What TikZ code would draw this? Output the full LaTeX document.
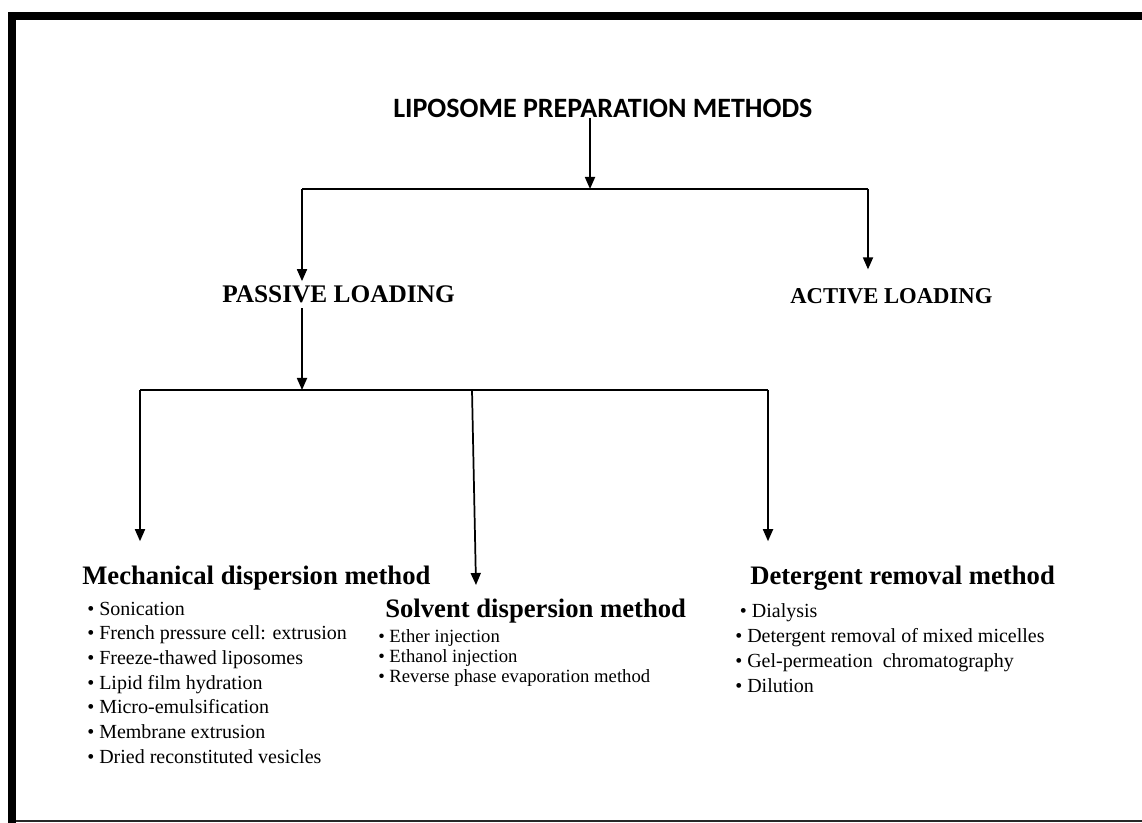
\documentclass[tikz,border=0pt]{standalone}
\usepackage{fontspec}
\setmainfont{Liberation Serif}
\newfontfamily\calfont{Carlito}
\usetikzlibrary{arrows.meta}

\begin{document}
\begin{tikzpicture}[x=0.75pt,y=0.75pt,yscale=-1,xscale=1,
  conn/.style={line width=1.3pt},
  arr/.style={conn,-{Triangle[length=9pt,width=7.5pt]}},
  head/.style={anchor=base west,inner sep=0pt,font=\fontsize{20}{24}\selectfont\bfseries},
  branch/.style={anchor=west,inner sep=0pt,font=\fontsize{19}{23}\selectfont\bfseries},
  items/.style={anchor=base west,inner sep=0pt,align=left}]
\useasboundingbox (0,0) rectangle (1142,823);

% Frame
\draw [line width=6pt] (12,823) -- (12,16) -- (1142,16);
\draw [line width=1pt, color={rgb, 255:red, 40; green, 40; blue, 40}] (16,821) -- (1142,821);

% Text Node
\node (title) at (393,108) [anchor=west,inner sep=0pt,font=\calfont\fontsize{21}{25}\selectfont\bfseries] {LIPOSOME PREPARATION METHODS};
% Text Node
\node (passive) at (222,294) [branch] {PASSIVE LOADING};
% Text Node
\node (active) at (790,296) [branch,font=\fontsize{17}{21}\selectfont\bfseries] {ACTIVE LOADING};

% Text Node
\node (mech) at (82,584) [head] {Mechanical dispersion method};
% Text Node
\node (solvent) at (385,617) [head] {Solvent dispersion method};
% Text Node
\node (detergent) at (750,584) [head] {Detergent removal method};

% Text Node (base = last line)
\node (mechlist) at (87,763) [items,font=\fontsize{15}{18.5}\selectfont] {\textbullet\ Sonication\\
\textbullet\ French pressure cell: extrusion\\
\textbullet\ Freeze-thawed liposomes\\
\textbullet\ Lipid film hydration\\
\textbullet\ Micro-emulsification\\
\textbullet\ Membrane extrusion\\
\textbullet\ Dried reconstituted vesicles};
% Text Node
\node (solvlist) at (378,682) [items,font=\fontsize{14}{15}\selectfont] {\textbullet\ Ether injection\\
\textbullet\ Ethanol injection\\
\textbullet\ Reverse phase evaporation method};
% Text Node
\node (detlist) at (735,692) [items,font=\fontsize{15}{18.75}\selectfont] {\hspace{3.5pt}\textbullet\ Dialysis\\
\textbullet\ Detergent removal of mixed micelles\\
\textbullet\ Gel-permeation\ \ chromatography\\
\textbullet\ Dilution};

% Branch points
\coordinate (top) at (590,189);
\coordinate (topL) at (302,189);
\coordinate (topR) at (868,189);
\coordinate (mid) at (302,390);
\coordinate (midL) at (140,390);
\coordinate (midC) at (472,390);
\coordinate (midR) at (768,390);
\coordinate (solvIn) at (476,585);

% Connection
\draw [arr] (title.south -| top) -- (top);
\draw [conn] (topL) -- (topR);
% Connection
\draw [arr,shorten >=3pt] (topL) -- (topL |- passive.north);
\draw [arr,shorten >=14pt] (topR) -- (topR |- active.north);
% Connection
\draw [arr,shorten <=4pt] (passive.south -| mid) -- (mid);
\draw [conn] (midL) -- (midR);
% Connection
\draw [arr,shorten >=18pt] (midL) -- (midL |- mech.north);
\draw [arr] (midC) -- (solvIn);
\draw [arr,shorten >=18pt] (midR) -- (midR |- detergent.north);

\end{tikzpicture}
\end{document}
